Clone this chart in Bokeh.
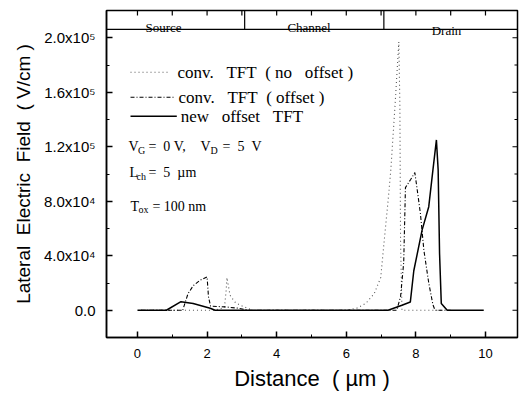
from bokeh.plotting import figure
from bokeh.models import Range1d, FixedTicker, Span
from bokeh.core.properties import value
from bokeh.embed import file_html
from bokeh.resources import INLINE

NB = "\u00a0"

# ---------------- data ----------------
x_no = [0.1, 2.2, 2.5, 2.55, 2.57, 2.66, 2.8, 2.95, 3.3, 6.0, 6.3, 6.56, 6.8, 6.99, 7.09, 7.2, 7.28, 7.4, 7.51, 7.54, 7.56, 7.6, 8.8]
y_no = [0, 0, 2000, 15000, 24000, 11000, 6000, 3700, 0, 0, 1500, 5000, 12000, 24000, 51000, 80000, 103000, 150000, 197000, 150000, 50000, 0, 0]

x_off = [0.1, 1.3, 1.45, 1.6, 1.8, 2.0, 2.04, 2.1, 2.5, 2.9, 3.2, 7.45, 7.56, 7.65, 7.7, 7.85, 7.97, 8.03, 8.13, 8.23, 8.37, 8.49, 8.55, 9.0]
y_off = [0, 0, 12000, 18000, 22000, 24500, 10000, 3000, 2500, 1500, 0, 0, 10000, 35000, 90000, 96000, 101000, 90000, 71000, 44000, 20000, 4000, 0, 0]

x_new = [0.0, 0.83, 1.25, 1.6, 2.09, 2.23, 7.2, 7.6, 7.84, 7.94, 8.18, 8.37, 8.49, 8.59, 8.64, 8.68, 8.73, 8.9, 9.95]
y_new = [0, 0, 6300, 4900, 1500, 0, 0, 3700, 6000, 29000, 59000, 76000, 103000, 125000, 103000, 42000, 5000, 0, 0]

series_names = ["conv." + NB * 3 + "TFT" + NB * 2 + "(" + NB + "no" + NB * 3 + "offset" + NB + ")",
                "conv." + NB * 3 + "TFT" + NB * 2 + "(" + NB + "offset" + NB + ")",
                "new" + NB * 3 + "offset" + NB * 3 + "TFT"]

x_ticks = [0, 2, 4, 6, 8, 10]
x_minor = [1, 3, 5, 7, 9]
top_ticks = [0, 1, 2, 3, 4, 5, 6, 7, 8, 9, 10]
y_ticks = [0, 40000, 80000, 120000, 160000, 200000]
y_minor = [-20000, 20000, 60000, 100000, 140000, 180000]
y_tick_labels = ["0.0", "4.0x10\u2074", "8.0x10\u2074", "1.2x10\u2075", "1.6x10\u2075", "2.0x10\u2075"]

region_names = ["Source", "Channel", "Drain"]
region_label_x = [0.75, 4.93, 8.88]
region_label_y = [207300, 207300, 205200]
region_bounds = [3.08, 7.08]
strip_y = 206200

# legend layout (data units)
leg_x0 = [-0.2, -0.2, -0.2]
leg_x1 = [0.9, 1.07, 1.13]
leg_line_y = [174700, 156300, 142400]
leg_text_x = [1.15, 1.18, 1.24]

# condition annotations (main text pieces and subscripts), vertically centred
ann_main_x = [-0.259, 0.316, 1.810, 2.443, -0.230, 0.316, -0.201, 0.431]
ann_main_y = [120400, 120400, 120400, 120400, 100900, 100900, 76300, 76300]
ann_main_t = ["V", "=" + NB * 2 + "0" + NB + "V,", "V", "=" + NB * 2 + "5" + NB * 2 + "V",
              "L", "=" + NB * 2 + "5" + NB * 2 + "\u00b5m", "T", "=" + NB + "100" + NB + "nm"]
ann_sub_x = [0.014, 2.098, -0.029, 0.029]
ann_sub_y = [117400, 117400, 98300, 73800]
ann_sub_t = ["G", "D", "ch", "ox"]

X_START, X_END = -0.89, 10.92
Y_START, Y_END = -20000, 220000
PX_X = 34.8          # px per x unit
PX_Y = 54.5 / 40000  # px per y unit

p = figure(width=519, height=396, output_backend="svg", toolbar_location=None,
           title=None,
           x_range=Range1d(X_START, X_END), y_range=Range1d(Y_START, Y_END),
           min_border_left=106, min_border_top=10, min_border_bottom=59, min_border_right=2)
p.grid.visible = False
p.background_fill_color = "white"
p.border_fill_color = "white"
p.outline_line_color = "black"
p.outline_line_width = 1.5

# axes
xa = p.xaxis[0]
xa.ticker = FixedTicker(ticks=x_ticks, minor_ticks=x_minor)
xa.axis_label = "Distance" + NB * 2 + "(" + NB + "\u00b5m" + NB + ")"
yl = p.yaxis[0]
yl.ticker = FixedTicker(ticks=y_ticks, minor_ticks=y_minor)
yl.axis_label = "Lateral" + NB * 2 + "Electric" + NB * 2 + "Field" + NB * 2 + "(" + NB + "V/cm" + NB + ")"
yl.major_label_overrides = {t: s for t, s in zip(y_ticks, y_tick_labels)}
for ax in (xa, yl):
    ax.major_tick_in = 6
    ax.major_tick_out = 0
    ax.minor_tick_in = 3
    ax.minor_tick_out = 0
    ax.axis_line_width = 1.5
    ax.major_tick_line_width = 1.5
    ax.major_label_text_font = "Liberation Sans"
    ax.major_label_text_font_size = "13px"
    ax.major_label_text_color = "black"
    ax.axis_label_text_font = "Liberation Sans"
    ax.axis_label_text_font_style = "normal"
    ax.axis_label_text_color = "black"
xa.major_label_standoff = 11
xa.axis_label_text_font_size = "22px"
xa.axis_label_standoff = 5
yl.major_label_standoff = 11
yl.major_label_text_font_size = "15px"
yl.axis_label_text_font_size = "19px"
yl.axis_label_standoff = 7

# mirrored inward ticks on top and right frame edges
p.segment(x0=top_ticks, x1=top_ticks, y0=[Y_END] * len(top_ticks),
          y1=[Y_END - 5 / PX_Y] * len(top_ticks), line_color="black", line_width=1.2)
p.segment(x0=[X_END] * len(y_ticks), x1=[X_END - 5 / PX_X] * len(y_ticks),
          y0=y_ticks, y1=y_ticks, line_color="black", line_width=1.2)
p.segment(x0=[X_END] * len(y_minor), x1=[X_END - 3 / PX_X] * len(y_minor),
          y0=y_minor, y1=y_minor, line_color="black", line_width=1.0)

# top strip
p.add_layout(Span(location=strip_y, dimension="width", line_color="black", line_width=1.2))
p.segment(x0=region_bounds, x1=region_bounds, y0=[strip_y] * len(region_bounds),
          y1=[Y_END] * len(region_bounds), line_color="black", line_width=1.2)
p.text(x=region_label_x, y=region_label_y, text=region_names, text_align="center",
       text_baseline="alphabetic", text_font=value("Liberation Serif"),
       text_font_size="13px", text_color="black")

# curves
p.line(x_no, y_no, line_color="#555555", line_width=1.1, line_dash="1 3")
p.line(x_off, y_off, line_color="black", line_width=1.1, line_dash="4 2 1 2")
p.line(x_new, y_new, line_color="black", line_width=1.5)

# legend
styles = [dict(line_color="#555555", line_width=1.1, line_dash="1 3"),
          dict(line_color="black", line_width=1.1, line_dash="4 2 1 2"),
          dict(line_color="black", line_width=1.5)]
for i, st in enumerate(styles):
    p.segment(x0=[leg_x0[i]], x1=[leg_x1[i]], y0=[leg_line_y[i]], y1=[leg_line_y[i]], **st)
p.text(x=leg_text_x, y=leg_line_y, text=series_names, text_align="left",
       text_baseline="middle", text_font=value("Liberation Serif"),
       text_font_size="17px", text_color="black")

# conditions
p.text(x=ann_main_x, y=ann_main_y, text=ann_main_t, text_align="left",
       text_baseline="middle", text_font=value("Liberation Serif"),
       text_font_size="14px", text_color="black")
p.text(x=ann_sub_x, y=ann_sub_y, text=ann_sub_t, text_align="left",
       text_baseline="middle", text_font=value("Liberation Serif"),
       text_font_size="10px", text_color="black")

open("out.html", "w").write(file_html(p, INLINE))
